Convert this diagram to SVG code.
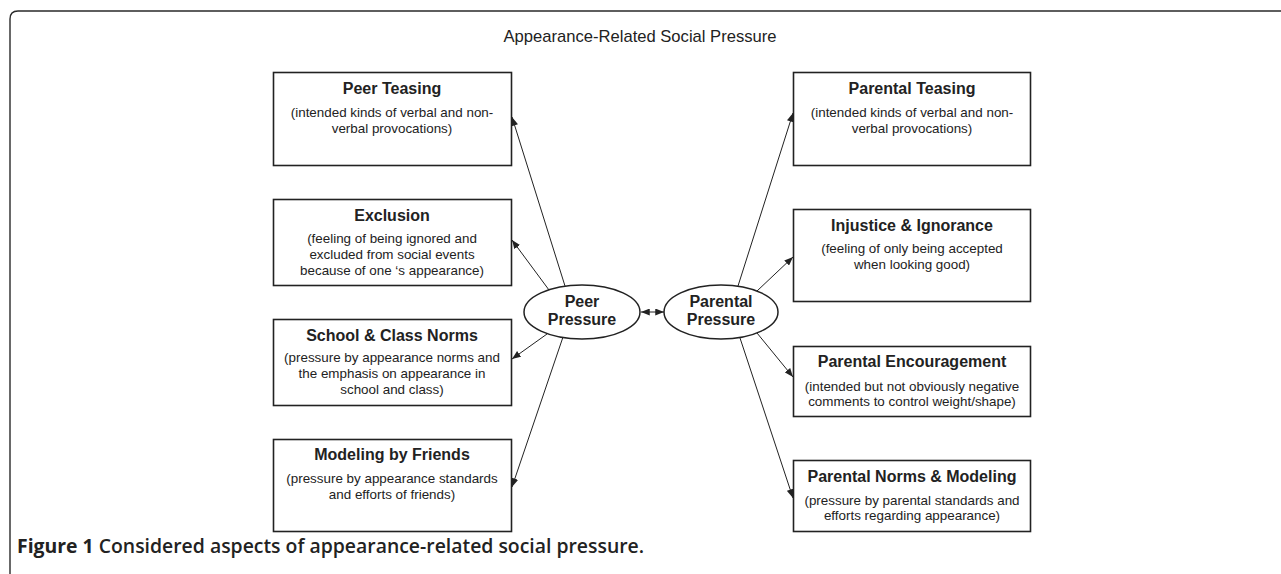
<svg xmlns="http://www.w3.org/2000/svg" width="1281" height="574" viewBox="0 0 1281 574">
<defs>
<style>
.frame{fill:none;stroke:#2a2a2a;stroke-width:1.4}
.box{fill:#fff;stroke:#222;stroke-width:1.6}
.ell{fill:#fff;stroke:#222;stroke-width:1.5}
.conn{fill:none;stroke:#222;stroke-width:1}
.t{font-family:"Liberation Sans",Arial,sans-serif;fill:#222;text-anchor:middle}
.h{font-size:16px;font-weight:bold}
.s{font-size:13.4px}
.title{font-size:16.6px}
.cap{font-family:"Open Sans","Liberation Sans",sans-serif;fill:#222;font-size:19.4px}
</style>
<marker id="ah" viewBox="0 0 10 8" refX="10" refY="4" markerWidth="9" markerHeight="7" markerUnits="userSpaceOnUse" orient="auto-start-reverse">
<path d="M0,0 L10,4 L0,8 z" fill="#222"/>
</marker>
</defs>
<rect width="1281" height="574" fill="#fff"/>
<path class="frame" d="M10,574 V19 Q10,11 18,11 H1281"/>
<text class="t title" x="640" y="42">Appearance-Related Social Pressure</text>

<g id="peer-teasing">
<rect class="box" x="273.5" y="72.5" width="238" height="93"/>
<text class="t h" x="392" y="94">Peer Teasing</text>
<text class="t s" x="392" y="117">(intended kinds of verbal and non-</text>
<text class="t s" x="392" y="133">verbal provocations)</text>
</g>
<g id="exclusion">
<rect class="box" x="273.5" y="199.5" width="238" height="86"/>
<text class="t h" x="392" y="221">Exclusion</text>
<text class="t s" x="392" y="243">(feeling of being ignored and</text>
<text class="t s" x="392" y="259">excluded from social events</text>
<text class="t s" x="392" y="275">because of one ‘s appearance)</text>
</g>
<g id="school-class-norms">
<rect class="box" x="273.5" y="319.5" width="238" height="86"/>
<text class="t h" x="392" y="341">School &amp; Class Norms</text>
<text class="t s" x="392" y="362">(pressure by appearance norms and</text>
<text class="t s" x="392" y="378">the emphasis on appearance in</text>
<text class="t s" x="392" y="394">school and class)</text>
</g>
<g id="modeling-by-friends">
<rect class="box" x="273.5" y="439.5" width="238" height="92"/>
<text class="t h" x="392" y="460">Modeling by Friends</text>
<text class="t s" x="392" y="483">(pressure by appearance standards</text>
<text class="t s" x="392" y="499">and efforts of friends)</text>
</g>

<g id="parental-teasing">
<rect class="box" x="793.5" y="72.5" width="237" height="93"/>
<text class="t h" x="912" y="94">Parental Teasing</text>
<text class="t s" x="912" y="117">(intended kinds of verbal and non-</text>
<text class="t s" x="912" y="133">verbal provocations)</text>
</g>
<g id="injustice-ignorance">
<rect class="box" x="793.5" y="209.5" width="237" height="92"/>
<text class="t h" x="912" y="231">Injustice &amp; Ignorance</text>
<text class="t s" x="912" y="253">(feeling of only being accepted</text>
<text class="t s" x="912" y="269">when looking good)</text>
</g>
<g id="parental-encouragement">
<rect class="box" x="793.5" y="346.5" width="237" height="70"/>
<text class="t h" x="912" y="367">Parental Encouragement</text>
<text class="t s" x="912" y="391">(intended but not obviously negative</text>
<text class="t s" x="912" y="406">comments to control weight/shape)</text>
</g>
<g id="parental-norms-modeling">
<rect class="box" x="793.5" y="460.5" width="237" height="71"/>
<text class="t h" x="912" y="482">Parental Norms &amp; Modeling</text>
<text class="t s" x="912" y="505">(pressure by parental standards and</text>
<text class="t s" x="912" y="520">efforts regarding appearance)</text>
</g>

<g id="peer-pressure">
<ellipse class="ell" cx="582" cy="312" rx="58" ry="27"/>
<text class="t h" x="582" y="307">Peer</text>
<text class="t h" x="582" y="325">Pressure</text>
</g>
<g id="parental-pressure">
<ellipse class="ell" cx="721" cy="312" rx="57" ry="27"/>
<text class="t h" x="721" y="307">Parental</text>
<text class="t h" x="721" y="325">Pressure</text>
</g>

<g id="connectors">
<path class="conn" marker-end="url(#ah)" d="M565,286 L512,117"/>
<path class="conn" marker-end="url(#ah)" d="M549,290 L512,240"/>
<path class="conn" marker-end="url(#ah)" d="M547,334 L512,359"/>
<path class="conn" marker-end="url(#ah)" d="M563,337 L512,487"/>
<path class="conn" marker-end="url(#ah)" d="M738,286 L793,113"/>
<path class="conn" marker-end="url(#ah)" d="M757,291 L793,257"/>
<path class="conn" marker-end="url(#ah)" d="M757,333 L793,377"/>
<path class="conn" marker-end="url(#ah)" d="M740,338 L793,498"/>
<path class="conn" marker-start="url(#ah)" marker-end="url(#ah)" d="M641,312 L664,312"/>
</g>

<text class="cap" x="17" y="553"><tspan font-weight="700">Figure 1</tspan><tspan font-weight="600"> Considered aspects of appearance-related social pressure.</tspan></text>
</svg>
